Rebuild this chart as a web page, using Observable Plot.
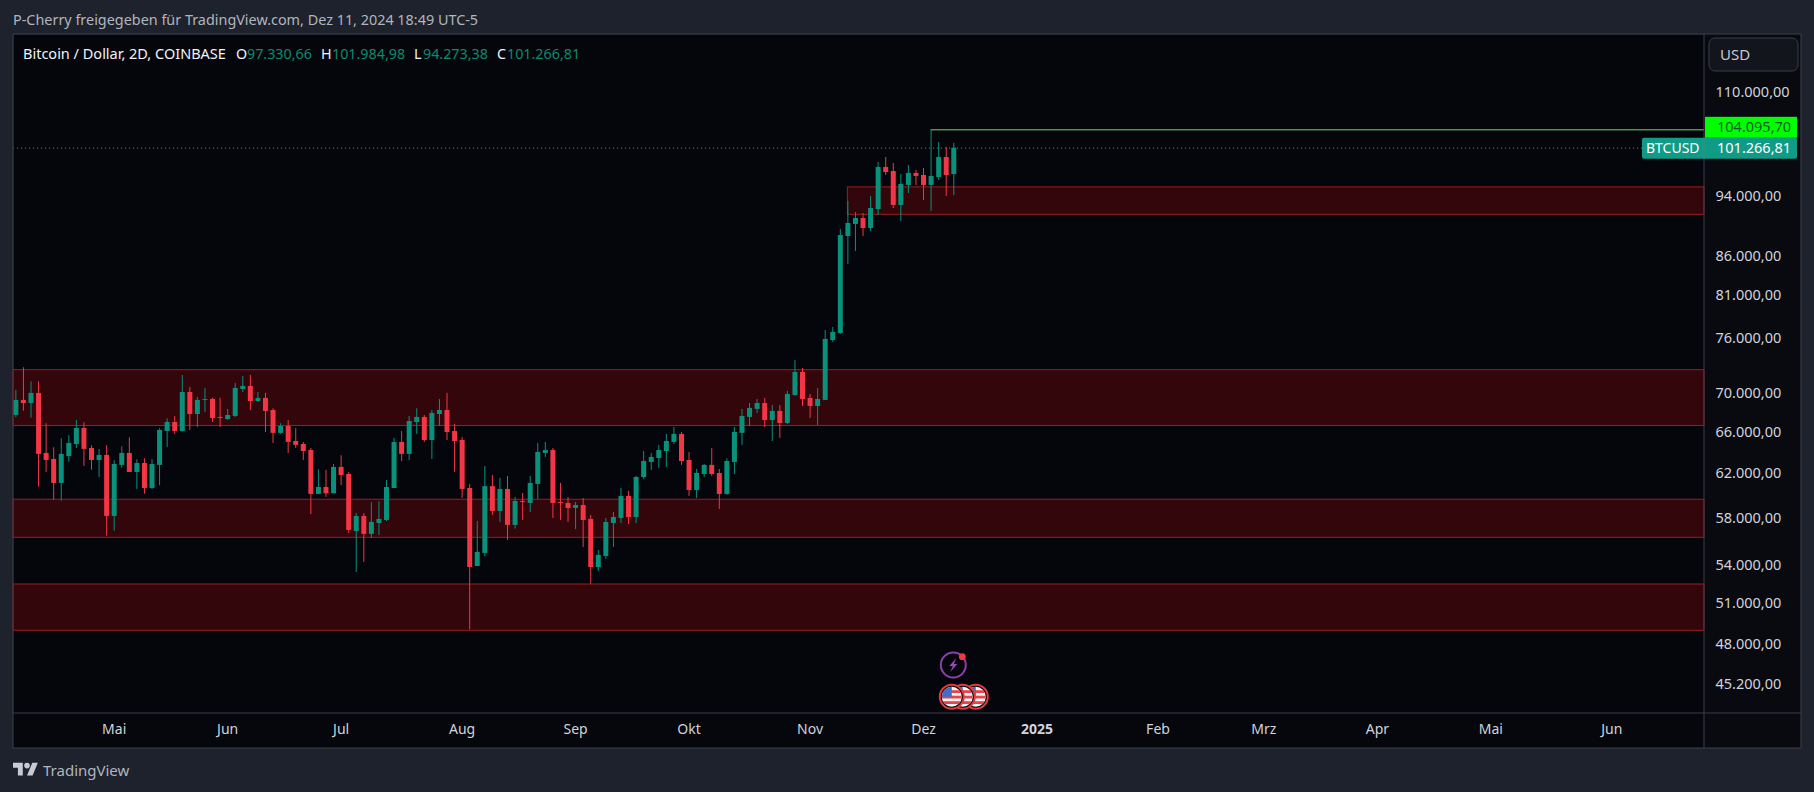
<!DOCTYPE html>
<html>
<head>
<meta charset="utf-8">
<script src="https://cdn.jsdelivr.net/npm/d3@7"></script>
<script src="https://cdn.jsdelivr.net/npm/@observablehq/plot@0.6"></script>
<style>
html,body{margin:0;padding:0;background:#1e222d;overflow:hidden}
svg{display:block}
</style>
</head>
<body>
<div id="chart"></div>
<script>
const dates = ["2024-04-06","2024-04-08","2024-04-10","2024-04-12","2024-04-14","2024-04-16","2024-04-18","2024-04-20","2024-04-22","2024-04-24","2024-04-26","2024-04-28","2024-04-30",
"2024-05-02","2024-05-04","2024-05-06","2024-05-08","2024-05-10","2024-05-12","2024-05-14","2024-05-16","2024-05-18","2024-05-20","2024-05-22","2024-05-24","2024-05-26","2024-05-28","2024-05-30",
"2024-06-01","2024-06-03","2024-06-05","2024-06-07","2024-06-09","2024-06-11","2024-06-13","2024-06-15","2024-06-17","2024-06-19","2024-06-21","2024-06-23","2024-06-25","2024-06-27","2024-06-29",
"2024-07-01","2024-07-03","2024-07-05","2024-07-07","2024-07-09","2024-07-11","2024-07-13","2024-07-15","2024-07-17","2024-07-19","2024-07-21","2024-07-23","2024-07-25","2024-07-27","2024-07-29","2024-07-31",
"2024-08-02","2024-08-04","2024-08-06","2024-08-08","2024-08-10","2024-08-12","2024-08-14","2024-08-16","2024-08-18","2024-08-20","2024-08-22","2024-08-24","2024-08-26","2024-08-28","2024-08-30",
"2024-09-01","2024-09-03","2024-09-05","2024-09-07","2024-09-09","2024-09-11","2024-09-13","2024-09-15","2024-09-17","2024-09-19","2024-09-21","2024-09-23","2024-09-25","2024-09-27","2024-09-29",
"2024-10-01","2024-10-03","2024-10-05","2024-10-07","2024-10-09","2024-10-11","2024-10-13","2024-10-15","2024-10-17","2024-10-19","2024-10-21","2024-10-23","2024-10-25","2024-10-27","2024-10-29","2024-10-31",
"2024-11-02","2024-11-04","2024-11-06","2024-11-08","2024-11-10","2024-11-12","2024-11-14","2024-11-16","2024-11-18","2024-11-20","2024-11-22","2024-11-24","2024-11-26","2024-11-28","2024-11-30",
"2024-12-02","2024-12-04","2024-12-06","2024-12-08","2024-12-10"];

const opens = [67770,69320,69000,70050,64010,63440,61190,63720,64880,66460,64490,63340,63820,
58230,62870,64010,62210,63050,60730,62870,66160,67060,66160,70150,67870,69320,69420,67570,
67360,67670,70470,70790,69210,69530,68280,65970,66660,65170,64880,64300,60190,60820,60250,
62680,62020,56930,58230,56680,57620,57880,60730,65080,63920,67060,67570,65270,67870,68280,66160,
65270,60730,54010,55080,60900,58670,60640,57450,59560,59380,61100,64010,64300,59470,59380,
58930,59200,57970,53930,54830,57620,58050,60010,58140,61740,63150,63530,64200,65080,65870,
63340,60550,62020,62870,62110,60190,63150,65970,67570,68390,69000,67260,68180,66960,69840,
72290,69530,68690,69320,75850,76650,88680,90300,91110,89750,92350,98370,97780,92910,95750,
97490,97190,95750,96900,99860,97330.66];

const closes = [69320,69000,70050,63920,63340,61190,63920,64980,66460,64400,63340,63820,58230,
62960,64010,62210,63050,60730,62960,66260,67060,66160,70150,67870,69320,69420,67470,67470,
67770,70580,70790,69210,69530,68180,65970,66660,65080,64790,64200,60190,60820,60250,62680,
61930,57020,58230,56680,57710,57970,60820,65080,63920,67160,67570,65270,67980,68280,66060,65170,
60640,53930,55170,60900,58670,60640,57450,59560,59470,61190,64110,64300,59380,59380,58930,
59200,57880,53930,54920,57710,58140,60010,58140,61740,63240,63630,64300,65170,65870,63240,
60550,62110,62870,62020,60190,63240,66060,67670,68490,69000,67260,68180,66960,69940,72290,
69420,68690,69420,75970,76770,88810,90430,91110,89750,92490,98370,97630,92910,95890,97490,
97050,95750,97050,99860,97190,101266.81];

const highs = [70370,72810,71290,71290,66930,64560,65440,65740,67260,67030,64760,64400,64760,
63310,64660,65540,63410,63500,63410,66430,67430,67670,71970,70690,69630,70580,69530,69530,
68390,71110,71860,71970,70150,70050,68450,66930,67260,66460,65080,64490,62460,62400,62960,
63790,62210,58490,58490,59440,59530,61470,65470,66160,67670,68450,67770,68280,69420,70050,66860,
65570,61100,57790,62770,61930,61650,61840,59920,60270,61840,64980,65080,64490,61190,59920,
59470,59820,58320,55330,58050,58580,60730,60460,61840,64200,64010,64790,65870,66560,66060,
64110,62490,62960,64490,62490,63500,66560,68390,69000,69420,69530,68790,68790,70260,73610,
72730,69940,70580,77000,77350,89620,93470,91940,91800,94180,99110,99860,98960,97340,98660,
97930,98220,104095.7,102130,101370,101984.98];

const lows = [67540,68210,67500,60850,62210,59670,59580,63180,64490,62770,62420,61740,56530,
56960,62610,62210,60640,60210,60640,60990,64590,65870,66090,66260,66560,68080,67060,66560,
67260,67570,70150,68280,69110,66060,64980,65870,64010,64490,63340,58400,60190,59920,60250,
60990,56760,53530,54340,56340,56590,57790,60730,63240,63340,65870,65080,63440,66660,65270,62210,
59820,49110,54010,54810,58320,57710,56170,57130,57880,58580,59740,63630,58050,57880,57710,
57100,55580,52580,53610,54590,55580,57620,57530,57620,61560,62400,62590,62680,64880,62870,
60010,59820,61740,61840,58840,60100,62020,64790,66660,67980,66560,65170,65470,66860,69730,
68690,67470,66760,69320,75630,76540,85030,86710,88680,89350,91520,97190,92490,90700,94600,
95750,93610,92080,96460,94170,94273.38];

const zoneTops    = [72540, 59710, 52570, 95470];
const zoneBottoms = [66710, 56390, 49040, 91620];
const zoneStarts  = ["2024-04-05T09:00Z","2024-04-05T09:00Z","2024-04-05T09:00Z","2024-11-12"];

const priceTicks = [110000,94000,86000,81000,76000,70000,66000,62000,58000,54000,51000,48000,45200];
const monthTicks = ["2024-05-02","2024-06-01","2024-07-01","2024-08-02","2024-09-01","2024-10-01","2024-11-02","2024-12-02","2025-02-02","2025-03-02","2025-04-01","2025-05-01","2025-06-02"];
const monthLabels = ["Mai","Jun","Jul","Aug","Sep","Okt","Nov","Dez","Feb","Mrz","Apr","Mai","Jun"];
const yearTick = ["2025-01-01"];
const yearLabel = ["2025"];

const lastPrice = 101266.81;
const peakPrice = 104095.7;
const peakDate = "2024-12-04";
const eventDate = "2024-12-10";

const xDomain = [new Date("2024-04-05T09:00Z"), new Date("2025-06-26T12:00Z")];
const yDomain = [43308, 120123];
const font = "'Noto Sans', sans-serif";
const UP = "#0a917b", DOWN = "#f23645", AXIS = "#d1d4dc", LABEL = "#0f9b86";

const fmt = d3.formatLocale({decimal:",",thousands:".",grouping:[3],currency:["",""]}).format(",.2f");
const candles = dates.map((d,i)=>({date:new Date(d),open:opens[i],close:closes[i],high:highs[i],low:lows[i]}));
const zones = zoneTops.map((t,i)=>({top:t,bottom:zoneBottoms[i],start:new Date(zoneStarts[i]),end:xDomain[1]}));
const tickLabel = new Map(monthTicks.map((d,i)=>[+new Date(d),monthLabels[i]]));
const isUp = d=>d.close>=d.open;

const plot = Plot.plot({
  width:1814,height:792,
  marginLeft:13,marginRight:110,marginTop:34,marginBottom:79,
  style:{background:"#1e222d",fontFamily:font,overflow:"visible"},
  x:{type:"utc",domain:xDomain},
  y:{type:"log",domain:yDomain},
  marks:[
    Plot.frame({fill:"#04060b"}),
    Plot.rect(zones,{x1:"start",x2:"end",y1:"bottom",y2:"top",fill:"#33060b",stroke:"#9a1f1f",strokeWidth:1}),
    Plot.ruleY([lastPrice],{stroke:"#2a9d8f",strokeDasharray:"1,3",strokeWidth:1}),
    Plot.ruleY([peakPrice],{x1:new Date(peakDate),x2:xDomain[1],stroke:"#66e066",strokeWidth:1}),
    Plot.ruleX(candles,{filter:d=>isUp(d),x:"date",y1:"low",y2:"high",stroke:UP,strokeWidth:1}),
    Plot.ruleX(candles,{filter:d=>!isUp(d),x:"date",y1:"low",y2:"high",stroke:DOWN,strokeWidth:1}),
    Plot.ruleX(candles,{filter:d=>isUp(d),x:"date",y1:"open",y2:"close",stroke:UP,strokeWidth:5}),
    Plot.ruleX(candles,{filter:d=>!isUp(d),x:"date",y1:"open",y2:"close",stroke:DOWN,strokeWidth:5}),
    Plot.axisY({anchor:"right",ticks:priceTicks,tickFormat:fmt,tickSize:0,tickPadding:11,label:null,fontSize:14.5,fill:AXIS,textAnchor:"start",dy:-1}),
    Plot.axisX({anchor:"bottom",ticks:monthTicks.map(d=>new Date(d)),tickFormat:d=>tickLabel.get(+d),tickSize:0,tickPadding:11,label:null,fontSize:14,fill:AXIS}),
    Plot.axisX({anchor:"bottom",ticks:yearTick.map(d=>new Date(d)),tickFormat:()=>yearLabel[0],tickSize:0,tickPadding:11,label:null,fontSize:14,fontWeight:"bold",fill:AXIS})
  ]
});
document.getElementById("chart").appendChild(plot);

const svg = d3.select(plot);
const X = plot.scale("x"), Y = plot.scale("y");
const border = "#3a3e4a";

const bg = svg.insert("g",":first-child");
bg.append("rect").attr("x",1704).attr("y",34).attr("width",97).attr("height",714).attr("fill","#080a10");
bg.append("rect").attr("x",13).attr("y",713).attr("width",1691).attr("height",35).attr("fill","#05070c");

const ui = svg.append("g");
[[13,34,13,748],[13,34,1801,34],[1801,34,1801,748],[13,748,1801,748],[1704,34,1704,748],[13,713,1801,713]]
  .forEach(([a,b,c,e])=>ui.append("line").attr("x1",a).attr("y1",b).attr("x2",c).attr("y2",e).attr("stroke",border));

function txt(x,y,s,o={}){
  return ui.append("text").attr("x",x).attr("y",y).attr("dy","0.35em").attr("font-family",font)
    .attr("font-size",o.size||14).attr("fill",o.fill||AXIS).attr("font-weight",o.weight||null)
    .attr("text-anchor",o.anchor||"start").text(s);
}
txt(13,19.5,"P-Cherry freigegeben für TradingView.com, Dez 11, 2024 18:49 UTC-5",{size:14.4,fill:"#b2b5be"});
const VAL="#0d8a70";
txt(23,53.5,"Bitcoin / Dollar, 2D, COINBASE",{size:14.5,fill:"#f0f3fa"});
[[236,"O",247,opens],[321,"H",332,highs],[414,"L",423,lows],[497,"C",507,closes]].forEach(([a,l,b,arr])=>{
  txt(a,53.5,l,{size:14.3,fill:"#f0f3fa"});
  txt(b,53.5,fmt(arr[arr.length-1]),{size:14.3,fill:VAL});
});
ui.append("rect").attr("x",1709).attr("y",38).attr("width",89).attr("height",33).attr("rx",6).attr("fill","#12151c").attr("stroke",border);
txt(1720,54.5,"USD",{size:15,fill:"#c4c7d0"});
const yPeak = Y.apply(peakPrice)-2, yLast = Y.apply(lastPrice)+0.5;
ui.append("rect").attr("x",1705).attr("y",yPeak-10.5).attr("width",92).attr("height",21).attr("fill","#00ff00");
txt(1717,yPeak,fmt(peakPrice),{size:14.5,fill:"#0e5a2a"});
ui.append("rect").attr("x",1642).attr("y",yLast-10.5).attr("width",155).attr("height",21).attr("rx",2).attr("fill",LABEL);
ui.append("line").attr("x1",1704).attr("x2",1704).attr("y1",yLast-10.5).attr("y2",yLast+10.5).attr("stroke","#3a8f80");
txt(1646,yLast,"BTCUSD",{size:14,fill:"#ffffff"});
txt(1717,yLast,fmt(lastPrice),{size:14.5,fill:"#ffffff"});
const ex = X.apply(new Date(eventDate));
const ev = ui.append("g");
ev.append("circle").attr("cx",ex).attr("cy",665).attr("r",12.5).attr("fill","#04060b").attr("stroke","#8e3fae").attr("stroke-width",2);
ev.append("path").attr("transform",`translate(${ex},665)`).attr("d","M3 -7 L-4 1 L-0.5 1 L-3 7 L4 -1 L0.5 -1 Z").attr("fill","#9c46bf");
ev.append("circle").attr("cx",ex+9).attr("cy",656.7).attr("r",3.4).attr("fill","#f23645");
const defs = svg.append("defs");
[22.5,9.5,-1.5].forEach((dx,i)=>{
  const cx = ex+dx, cy = 696.7, id = "flag"+i;
  defs.append("clipPath").attr("id",id).append("circle").attr("cx",cx).attr("cy",cy).attr("r",10);
  const g = ev.append("g");
  g.append("circle").attr("cx",cx).attr("cy",cy).attr("r",12).attr("fill","#04060b").attr("stroke","#e23a42").attr("stroke-width",2);
  const f = g.append("g").attr("clip-path",`url(#${id})`);
  f.append("rect").attr("x",cx-11).attr("y",cy-11).attr("width",22).attr("height",22).attr("fill","#f4f4f4");
  [-6.5,-1,4.5].forEach(o=>f.append("rect").attr("x",cx-11).attr("y",cy+o).attr("width",22).attr("height",2.8).attr("fill","#e8444c"));
  f.append("rect").attr("x",cx-11).attr("y",cy-11).attr("width",11).attr("height",11).attr("fill","#3f6fc4");
});
const logo = ui.append("g").attr("transform","translate(13,760) scale(0.7)").attr("fill","#c8cbd3");
logo.append("path").attr("d","M14 22H7V11H0V4h14v18zM28 22h-8l7.5-18h8L28 22z");
logo.append("circle").attr("cx",20).attr("cy",8).attr("r",4);
txt(43,770.5,"TradingView",{size:15,fill:"#b2b5be"});
</script>
</body>
</html>
